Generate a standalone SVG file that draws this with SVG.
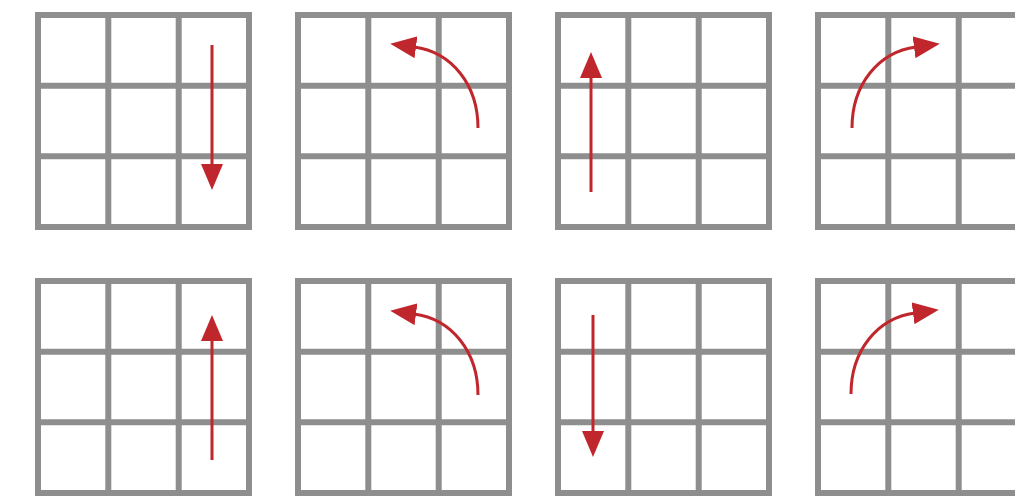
<svg xmlns="http://www.w3.org/2000/svg" xmlns:xlink="http://www.w3.org/1999/xlink" width="1015" height="496" viewBox="0 0 1015 496">
  <style>
    .g { fill: none; stroke: #8e8e8e; stroke-width: 6; }
    .arr { fill: none; stroke: #c0272d; stroke-width: 3; marker-end: url(#head); }
  </style>
  <defs>
    <marker id="head" markerUnits="userSpaceOnUse" viewBox="0 0 26 22" refX="2" refY="11" markerWidth="26" markerHeight="22" orient="auto">
      <path d="M0,0 L26,11 L0,22 z" fill="#c0272d"/>
    </marker>
    <g id="grid">
      <rect class="g" x="0" y="0" width="211" height="212"/>
      <path class="g" d="M70.3,0 V212 M140.7,0 V212 M0,70.7 H211 M0,141.3 H211"/>
    </g>
  </defs>
  <rect width="1015" height="496" fill="#ffffff"/>
  <g id="grid1"><use xlink:href="#grid" x="38" y="15"/></g>
  <g id="grid2"><use xlink:href="#grid" x="298" y="15"/></g>
  <g id="grid3"><use xlink:href="#grid" x="558" y="15"/></g>
  <g id="grid4"><use xlink:href="#grid" x="818" y="15"/></g>
  <g id="grid5"><use xlink:href="#grid" x="38" y="281"/></g>
  <g id="grid6"><use xlink:href="#grid" x="298" y="281"/></g>
  <g id="grid7"><use xlink:href="#grid" x="558" y="281"/></g>
  <g id="grid8"><use xlink:href="#grid" x="818" y="281"/></g>
  <g id="connectors">
    <path class="arr" d="M212,45 V166"/>
    <path class="arr" d="M478,128 C478,85 452,52 414,47"/>
    <path class="arr" d="M591,192 V76"/>
    <path class="arr" d="M852,128 C852,85 878,52 916,47"/>
    <path class="arr" d="M212,460 V339"/>
    <path class="arr" d="M478,395 C478,352 452,319 414,314"/>
    <path class="arr" d="M593,315 V433"/>
    <path class="arr" d="M851,394 C851,351 877,318 915,313"/>
  </g>
</svg>
